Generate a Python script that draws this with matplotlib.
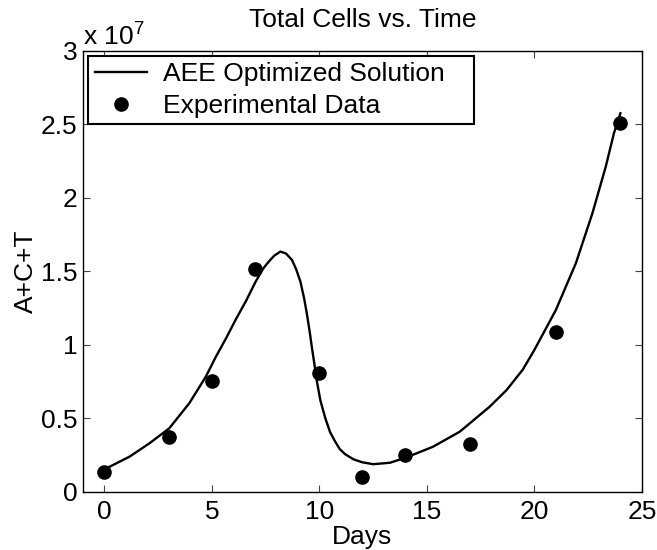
import numpy as np
import matplotlib
matplotlib.use("Agg")
import matplotlib.pyplot as plt

plt.rcParams['font.family'] = ['Liberation Sans', 'DejaVu Sans']
plt.rcParams['mathtext.fontset'] = 'custom'
plt.rcParams['mathtext.rm'] = 'Liberation Sans'

# experimental data (days, total cells)
dias = [0, 3, 5, 7, 10, 12, 14, 17, 21, 24]
celulas = [1.36e6, 3.70e6, 7.53e6, 1.517e7, 8.07e6, 1.02e6, 2.48e6, 3.27e6, 1.085e7, 2.506e7]

# optimized solution
t_sol = [0, 0.25, 1.17, 2.1, 3.02, 3.95, 4.72, 5.19, 5.65, 6.11, 6.6, 7.04, 7.4, 7.65,
         7.9, 8.19, 8.45, 8.73, 8.93, 9.12, 9.3, 9.43, 9.55, 9.66, 9.78, 9.89, 10.05,
         10.28, 10.5, 10.74, 10.95, 11.2, 11.59, 12.0, 12.51, 13.29, 14.06, 15.29,
         16.53, 17.92, 18.7, 19.46, 20.0, 21.0, 21.93, 22.7, 23.32, 23.7, 24.0]
y_sol = [1.59e6, 1.70e6, 2.38e6, 3.29e6, 4.31e6, 6.01e6, 7.82e6, 9.18e6, 1.04e7,
         1.17e7, 1.30e7, 1.429e7, 1.52e7, 1.565e7, 1.605e7, 1.633e7, 1.62e7, 1.576e7,
         1.51e7, 1.429e7, 1.31e7, 1.202e7, 1.09e7, 9.75e6, 8.6e6, 7.48e6, 6.2e6,
         4.99e6, 4.05e6, 3.40e6, 2.90e6, 2.55e6, 2.20e6, 2.0e6, 1.87e6, 1.97e6,
         2.34e6, 3.06e6, 4.08e6, 5.78e6, 6.9e6, 8.3e6, 9.64e6, 1.236e7, 1.554e7,
         1.894e7, 2.211e7, 2.438e7, 2.574e7]

xticks = [0, 5, 10, 15, 20, 25]
yticks = [0, 0.5e7, 1e7, 1.5e7, 2e7, 2.5e7, 3e7]
yticklabels = ['0', '0.5', '1', '1.5', '2', '2.5', '3']

fs = 19

fig = plt.figure(figsize=(6.57, 5.5), dpi=100)
ax = fig.add_axes([0.126, 0.106, 0.851, 0.802])

ax.plot(t_sol, y_sol, color='black', linewidth=1.7, label='AEE Optimized Solution')
ax.plot(dias, celulas, 'o', color='black', markersize=9.5, label='Experimental Data')

ax.set_xlim(-1, 25)
ax.set_ylim(0, 3e7)
ax.set_xticks(xticks)
ax.set_yticks(yticks)
ax.set_yticklabels(yticklabels)
ax.tick_params(direction='in', top=True, right=True, length=5, width=0.8,
               labelsize=fs, color='#444444')
ax.tick_params(axis='x', pad=6)
ax.tick_params(axis='y', pad=4)
for s in ax.spines.values():
    s.set_linewidth(1.0)

ax.text(0.0, 1.013, r'x 10$^{7}$', transform=ax.transAxes, fontsize=fs,
        ha='left', va='baseline')

ax.set_title('Total Cells vs. Time', fontsize=fs, pad=17)
ax.set_xlabel('Days', fontsize=fs, labelpad=0.5)
ax.set_ylabel('A+C+T', fontsize=fs, labelpad=2)

leg = ax.legend(loc='upper left', bbox_to_anchor=(0.0095, 0.5, 0.6905, 0.488),
                mode='expand', borderaxespad=0,
                fontsize=fs, fancybox=False, framealpha=1, edgecolor='black',
                handlelength=2.0, handletextpad=0.6, borderpad=0.25, labelspacing=0.28)
leg.get_frame().set_linewidth(1.5)

fig.savefig('out.png', dpi=100)
